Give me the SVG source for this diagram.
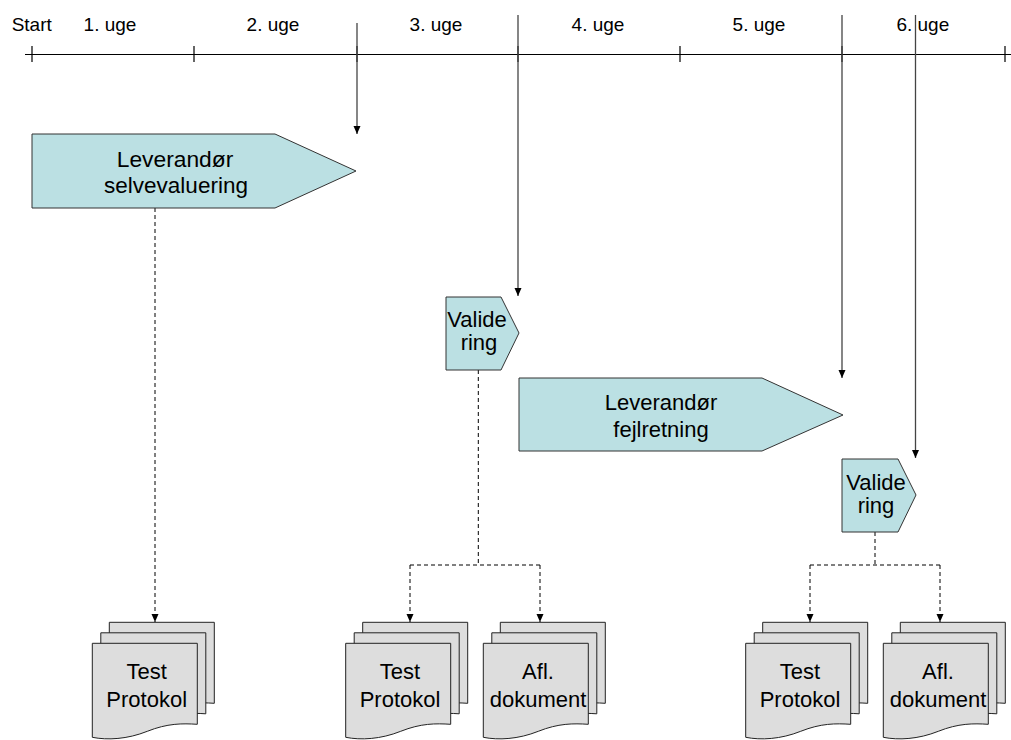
<svg xmlns="http://www.w3.org/2000/svg" width="1011" height="740" viewBox="0 0 1011 740">
<defs>
<style>
text{font-family:"Liberation Sans",Arial,sans-serif;fill:#000;text-anchor:middle}
.tl{font-size:19px}
.lb{font-size:22px}
.pent{fill:#BBE0E3;stroke:#333;stroke-width:1}
.doc{fill:#DDDDDD;stroke:#222;stroke-width:1}
.axis{stroke:#000;stroke-width:1.2;fill:none}
.vline{stroke:#444;stroke-width:1.3;fill:none}
.dash{stroke:#000;stroke-width:1;stroke-dasharray:4,3;fill:none}
</style>
<marker id="ah" markerUnits="userSpaceOnUse" markerWidth="9" markerHeight="8" refX="8" refY="3.5" orient="auto">
<path d="M0,0 L8,3.5 L0,7 z" fill="#000"/>
</marker>
<path id="docshape" d="M0,0 H105 V81 C90,80 75,80 55,88 C35,96 15,97 0,94 Z"/>
<g id="stack">
<use href="#docshape" class="doc" x="17" y="-21"/>
<use href="#docshape" class="doc" x="8.5" y="-10.5"/>
<use href="#docshape" class="doc"/>
</g>
</defs>
<rect width="1011" height="740" fill="#fff"/>

<g id="timeline">
<line class="axis" x1="25" y1="54.5" x2="1011" y2="54.5"/>
<path class="axis" d="M32,46V62 M194,46V62 M357,46V62 M518,46V62 M680,46V62 M842,46V62 M1005,46V62"/>
<text class="tl" x="31.7" y="31">Start</text>
<text class="tl" x="110" y="31">1. uge</text>
<text class="tl" x="273" y="31">2. uge</text>
<text class="tl" x="436" y="31">3. uge</text>
<text class="tl" x="598" y="31">4. uge</text>
<text class="tl" x="759" y="31">5. uge</text>
<text class="tl" x="922.8" y="31">6. uge</text>
</g>

<g id="connectors">
<line class="vline" x1="357" y1="23" x2="357" y2="134" marker-end="url(#ah)"/>
<line class="vline" x1="518" y1="15" x2="518" y2="296" marker-end="url(#ah)"/>
<line class="vline" x1="842" y1="15" x2="842" y2="378" marker-end="url(#ah)"/>
<line class="vline" x1="915.5" y1="15" x2="915.5" y2="458" marker-end="url(#ah)"/>
<line class="dash" x1="155" y1="208" x2="155" y2="622" marker-end="url(#ah)"/>
<path class="dash" d="M478.3,370 V565 M410,565 H540"/>
<line class="dash" x1="410" y1="565" x2="410" y2="622" marker-end="url(#ah)"/>
<line class="dash" x1="540" y1="565" x2="540" y2="622" marker-end="url(#ah)"/>
<path class="dash" d="M875,532 V565 M810,565 H940"/>
<line class="dash" x1="810" y1="565" x2="810" y2="622" marker-end="url(#ah)"/>
<line class="dash" x1="940" y1="565" x2="940" y2="622" marker-end="url(#ah)"/>
</g>

<g id="selvevaluering">
<polygon class="pent" points="32,134 275,134 356,171 275,208 32,208"/>
<text class="lb" x="175" y="167.3" style="font-size:22.8px">Leverandør</text>
<text class="lb" x="176" y="192.5" style="font-size:22.5px">selvevaluering</text>
</g>

<g id="validering1">
<polygon class="pent" points="446,297 501,297 519,333 501,370 446,370"/>
<text class="lb" x="477" y="327">Valide</text>
<text class="lb" x="479" y="350">ring</text>
</g>

<g id="fejlretning">
<polygon class="pent" points="519,378 762,378 843,415 762,451 519,451"/>
<text class="lb" x="661" y="410">Leverandør</text>
<text class="lb" x="661" y="436.5">fejlretning</text>
</g>

<g id="validering2">
<polygon class="pent" points="842,459 898,459 916,495 898,532 842,532"/>
<text class="lb" x="876" y="490">Valide</text>
<text class="lb" x="876" y="513">ring</text>
</g>

<g id="testprotokol1">
<use href="#stack" x="92.3" y="643.3"/>
<text class="lb" x="146.7" y="679">Test</text>
<text class="lb" x="146.7" y="706.7">Protokol</text>
</g>

<g id="testprotokol2">
<use href="#stack" x="345.7" y="643.3"/>
<text class="lb" x="400" y="679">Test</text>
<text class="lb" x="400" y="706.7">Protokol</text>
</g>

<g id="afldokument1">
<use href="#stack" x="483.3" y="643.3"/>
<text class="lb" x="538" y="679">Afl.</text>
<text class="lb" x="538" y="706.7">dokument</text>
</g>

<g id="testprotokol3">
<use href="#stack" x="745.7" y="643.3"/>
<text class="lb" x="800" y="679">Test</text>
<text class="lb" x="800" y="706.7">Protokol</text>
</g>

<g id="afldokument2">
<use href="#stack" x="883.3" y="643.3"/>
<text class="lb" x="938" y="679">Afl.</text>
<text class="lb" x="938" y="706.7">dokument</text>
</g>
</svg>
